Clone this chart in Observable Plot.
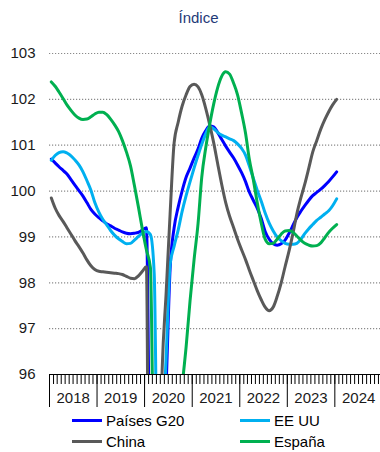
<!DOCTYPE html>
<html><head><meta charset="utf-8">
<script src="https://cdn.jsdelivr.net/npm/d3@7"></script>
<script src="https://cdn.jsdelivr.net/npm/@observablehq/plot@0.6"></script>
<style>
html,body{margin:0;padding:0;background:#fff;overflow:hidden;width:380px;height:452px}
body{font-family:"Liberation Sans",Arial,sans-serif;position:relative}
#title{position:absolute;left:0;top:9px;width:397px;text-align:center;font-size:15px;line-height:17px;color:#1f3a78}
#chart{position:absolute;left:0;top:30px}
.sw{position:absolute;width:30px;height:3px}
.lt{position:absolute;font-size:15px;line-height:17px;color:#000;white-space:nowrap}
</style>
</head><body>
<div id="title">Índice</div>
<div id="chart"></div>
<div id="legend"></div>
<script>
// ---- data (monthly, Jan 2018 – Jan 2024) ----
const seriesNames = ["Países G20", "EE UU", "China", "España"];
const seriesColors = ["#0000ff", "#00b0f0", "#595959", "#00b050"];
const yTicks = [96, 97, 98, 99, 100, 101, 102, 103];
const yearLabels = ["2018", "2019", "2020", "2021", "2022", "2023", "2024"];

const g20 = [
 100.70,100.61,100.53,100.45,100.37,100.25,100.13,100.01,99.89,99.75,99.60,99.50,
 99.42,99.35,99.29,99.24,99.19,99.15,99.11,99.08,99.07,99.08,99.10,99.15,
 99.20,93.0,92.0,92.5,94.0,95.8,98.3,99.2,99.65,100.0,100.3,100.5,
 100.72,100.92,101.15,101.32,101.42,101.40,101.28,101.13,100.98,100.85,100.72,100.57,
 100.40,100.20,99.98,99.80,99.63,99.40,99.12,98.95,98.85,98.82,98.85,98.93,
 99.08,99.26,99.42,99.56,99.68,99.80,99.90,99.97,100.04,100.12,100.21,100.31,
 100.42];
const eeuu = [
 100.67,100.78,100.84,100.86,100.83,100.77,100.68,100.57,100.42,100.23,100.02,99.75,
 99.54,99.38,99.27,99.14,99.04,98.96,98.90,98.85,98.86,98.93,99.01,99.08,
 99.12,99.05,98.2,92.5,94.4,96.4,98.4,98.8,99.15,99.55,99.9,100.2,
 100.5,100.78,101.02,101.25,101.40,101.36,101.28,101.22,101.18,101.14,101.10,101.03,
 100.93,100.78,100.55,100.28,100.02,99.78,99.52,99.30,99.13,99.00,98.92,98.86,
 98.84,98.84,98.86,98.95,99.07,99.18,99.27,99.36,99.43,99.50,99.57,99.68,
 99.83];
const china = [
 99.85,99.62,99.47,99.34,99.20,99.06,98.92,98.79,98.65,98.50,98.37,98.29,
 98.25,98.24,98.23,98.22,98.21,98.20,98.18,98.14,98.10,98.09,98.15,98.25,
 98.35,86.0,89.0,92.5,96.1,97.8,99.5,101.05,101.5,101.85,102.1,102.28,
 102.33,102.27,102.10,101.80,101.45,101.05,100.60,100.15,99.75,99.45,99.20,98.95,
 98.72,98.50,98.28,98.05,97.83,97.63,97.47,97.39,97.47,97.70,98.00,98.35,
 98.70,99.10,99.50,99.85,100.15,100.50,100.85,101.10,101.35,101.55,101.73,101.88,
 102.00];
const espana = [
 102.38,102.28,102.16,102.02,101.88,101.76,101.66,101.59,101.56,101.57,101.62,101.68,
 101.72,101.72,101.67,101.57,101.45,101.30,101.10,100.85,100.55,100.12,99.65,99.17,
 98.72,98.33,92.9,91.0,90.5,91.2,92.2,93.3,94.5,95.7,96.6,97.6,
 98.5,99.3,100.3,100.95,101.45,101.9,102.25,102.5,102.6,102.55,102.35,102.1,
 101.7,101.25,100.7,100.25,99.75,99.3,98.95,98.85,98.86,98.95,99.06,99.13,
 99.14,99.10,99.02,98.93,98.86,98.82,98.80,98.81,98.87,98.98,99.10,99.19,
 99.27];

const seriesValues = [g20, eeuu, china, espana];
const monthStarts = d3.utcMonths(new Date(Date.UTC(2018,0,1)), new Date(Date.UTC(2024,1,1)));
const dates = monthStarts.map(d => d3.utcDay.offset(d, 14));

const data = seriesValues.map((vals, s) =>
  vals.map((v, i) => ({date: dates[i], value: v, series: seriesNames[s]})));

const x0 = new Date(Date.UTC(2018,0,1)), x1 = new Date(Date.UTC(2025,0,1));
const allMonths = d3.utcMonths(x0, x1);
const yearStarts = d3.utcYears(x0, d3.utcDay.offset(x1, 1));
const midYears = yearLabels.map(y => new Date(Date.UTC(+y, 6, 2)));

const chart = Plot.plot({
  width: 382, height: 382,
  marginLeft: 49, marginRight: 0, marginTop: 23, marginBottom: 38,
  x: {type: "utc", domain: [x0, x1]},
  y: {domain: [96, 103]},
  style: {fontFamily: "'Liberation Sans', Arial, sans-serif", fontSize: "15px", color: "#1a1a1a", background: "transparent", overflow: "visible", maxWidth: "none"},
  marks: [
    Plot.ruleY(yTicks.filter(d => d > 96), {stroke: "#8a8a8a", strokeWidth: 1.2, strokeDasharray: "1.2,1.8"}),
    Plot.axisY(yTicks, {tickSize: 0, tickPadding: 14, fontSize: 15, label: null, tickFormat: d => String(d)}),
    Plot.axisX(allMonths, {tickSize: 10, tickFormat: () => "", label: null, stroke: "#000", strokeOpacity: 1}),
    Plot.axisX(yearStarts, {tickSize: 33, tickFormat: () => "", label: null, stroke: "#000", strokeOpacity: 1}),
    Plot.axisX(midYears, {tickSize: 0, tickPadding: 18, fontSize: 15, label: null, tickFormat: (d, i) => yearLabels[i]}),
    Plot.ruleY([96], {stroke: "#000", strokeWidth: 1}),
    ...data.map((d, s) => Plot.line(d, {x: "date", y: "value", stroke: seriesColors[s], strokeWidth: 3, curve: "monotone-x", clip: true}))
  ]
});
document.getElementById("chart").appendChild(chart);

// ---- legend ----
const legend = document.getElementById("legend");
const legX = [72, 240, 72, 240];
const legBase = [426, 426, 447, 447];
seriesNames.forEach((name, i) => {
  const sw = document.createElement("div");
  sw.className = "sw";
  sw.style.left = legX[i] + "px";
  sw.style.top = (legBase[i] - 5.5 - 1.5) + "px";
  sw.style.background = seriesColors[i];
  legend.appendChild(sw);
  const t = document.createElement("div");
  t.className = "lt";
  t.style.left = (legX[i] + 34) + "px";
  t.style.top = (legBase[i] - 13.7) + "px";
  t.textContent = name;
  legend.appendChild(t);
});
</script>
</body></html>
